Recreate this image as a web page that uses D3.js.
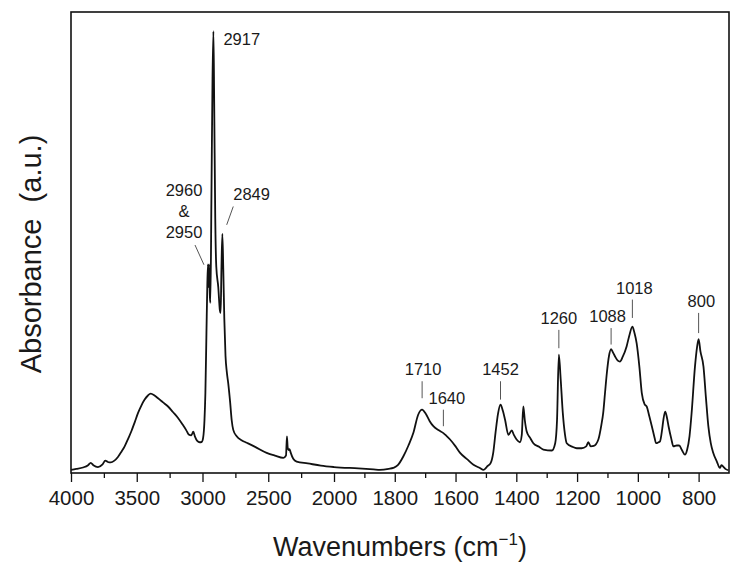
<!DOCTYPE html>
<html>
<head>
<meta charset="utf-8">
<script src="https://cdn.jsdelivr.net/npm/d3@7"></script>
<style>
    body { margin: 0; background: #fff; }
    svg text { font-family: "Liberation Sans", Arial, sans-serif; fill: #1a1a1a; }
</style>
</head>
<body>
<div id="chart"></div>
<script>
// spectrum (cm-1, absorbance a.u.)
const wavenumbers = [
    4000, 3960, 3909, 3870, 3850, 3830, 3795, 3760, 3739, 3720, 3698, 3670, 3643, 3615, 3592, 3565,
    3541, 3515, 3490, 3465, 3440, 3415, 3394, 3365, 3338, 3300, 3262, 3225, 3186, 3150, 3123, 3105,
    3085, 3070, 3058, 3040, 3021, 3005, 2995, 2985, 2978, 2970, 2963, 2958, 2954, 2950, 2944, 2940,
    2932, 2924, 2917, 2911, 2903, 2895, 2880, 2868, 2862, 2856, 2849, 2842, 2834, 2825, 2815, 2804,
    2790, 2778, 2766, 2740, 2700, 2664, 2600, 2512, 2450, 2385, 2365, 2358, 2352, 2345, 2338, 2330,
    2310, 2284, 2200, 2100, 2000, 1920, 1870, 1849, 1820, 1805, 1790, 1772, 1755, 1739, 1723, 1710,
    1698, 1685, 1673, 1655, 1640, 1630, 1618, 1600, 1585, 1560, 1541, 1520, 1508, 1500, 1495, 1485,
    1476, 1468, 1460, 1452, 1444, 1437, 1426, 1415, 1408, 1399, 1388, 1382, 1377, 1372, 1366, 1355,
    1344, 1325, 1311, 1283, 1272, 1266, 1260, 1254, 1247, 1240, 1234, 1215, 1201, 1185, 1170, 1163,
    1155, 1145, 1130, 1120, 1114, 1108, 1102, 1095, 1088, 1082, 1075, 1066, 1059, 1050, 1037, 1028,
    1018, 1011, 1004, 995, 987, 978, 971, 962, 954, 945, 940, 932, 927, 920, 916, 910,
    904, 899, 890, 883, 872, 864, 855, 845, 838, 830, 823, 812, 805, 800, 794, 784,
    776, 768, 760, 752, 740, 730, 725, 719, 712, 702
];
const absorbance = [
    0.002, 0.004, 0.007, 0.012, 0.017, 0.012, 0.008, 0.014, 0.022, 0.019, 0.018, 0.022, 0.030, 0.042, 0.053, 0.070,
    0.086, 0.106, 0.126, 0.142, 0.155, 0.164, 0.168, 0.164, 0.158, 0.149, 0.140, 0.128, 0.115, 0.100, 0.088, 0.079,
    0.077, 0.085, 0.075, 0.065, 0.062, 0.063, 0.072, 0.110, 0.170, 0.300, 0.410, 0.450, 0.400, 0.450, 0.380, 0.366,
    0.600, 0.850, 0.958, 0.800, 0.550, 0.444, 0.400, 0.350, 0.344, 0.440, 0.516, 0.440, 0.330, 0.250, 0.215, 0.190,
    0.150, 0.110, 0.089, 0.075, 0.066, 0.061, 0.052, 0.039, 0.033, 0.028, 0.033, 0.075, 0.050, 0.045, 0.047, 0.040,
    0.026, 0.020, 0.016, 0.011, 0.008, 0.005, 0.003, 0.002, 0.004, 0.006, 0.012, 0.031, 0.055, 0.082, 0.122, 0.133,
    0.124, 0.108, 0.097, 0.088, 0.082, 0.076, 0.068, 0.053, 0.039, 0.024, 0.013, 0.006, 0.002, 0.006, 0.010, 0.016,
    0.039, 0.085, 0.125, 0.144, 0.130, 0.111, 0.078, 0.088, 0.078, 0.068, 0.062, 0.078, 0.140, 0.110, 0.086, 0.072,
    0.060, 0.052, 0.046, 0.044, 0.060, 0.110, 0.253, 0.200, 0.126, 0.080, 0.060, 0.052, 0.049, 0.049, 0.053, 0.062,
    0.053, 0.054, 0.068, 0.100, 0.126, 0.170, 0.213, 0.250, 0.265, 0.258, 0.249, 0.240, 0.238, 0.248, 0.271, 0.295,
    0.314, 0.300, 0.278, 0.227, 0.169, 0.145, 0.140, 0.118, 0.097, 0.072, 0.060, 0.062, 0.064, 0.090, 0.111, 0.129,
    0.115, 0.097, 0.070, 0.053, 0.055, 0.055, 0.045, 0.035, 0.045, 0.075, 0.126, 0.227, 0.270, 0.287, 0.260, 0.227,
    0.160, 0.097, 0.060, 0.039, 0.020, 0.006, 0.012, 0.009, 0.004, 0.001
];

const xTicks = [4000, 3500, 3000, 2500, 2000, 1800, 1600, 1400, 1200, 1000, 800];
const xMinorTicks = [3750, 3250, 2750, 2250, 1900, 1700, 1500, 1300, 1100, 900];

// vertical peak markers: label, position, leader line bottom/top (a.u.)
const peakNames = ["1710", "1640", "1452", "1260", "1088", "1018", "800"];
const peakWavenumbers = [1710, 1640, 1452, 1260, 1088, 1018, 800];
const leaderLow = [0.158, 0.097, 0.155, 0.267, 0.275, 0.333, 0.300];
const leaderHigh = [0.195, 0.133, 0.195, 0.307, 0.311, 0.373, 0.344];
const labelShift = [1, 3.5, 0, 0, -3.5, 2, 2.7];

const width = 742, height = 572;
const margin = { top: 12, right: 13, bottom: 99, left: 71 };

const svg = d3.select("#chart").append("svg")
    .attr("width", width)
    .attr("height", height);

// the axis is broken in scale at 2000 cm-1
const x = d3.scaleLinear()
    .domain([4000, 2000, 700])
    .range([margin.left, 334, width - margin.right]);

const y = d3.scaleLinear()
    .domain([-0.005, 1])
    .range([height - margin.bottom, margin.top]);

const data = wavenumbers.map((w, i) => ({ w, a: absorbance[i] }));

// minor ticks
svg.append("g")
    .attr("transform", `translate(0,${height - margin.bottom})`)
    .call(d3.axisBottom(x).tickValues(xMinorTicks).tickSize(5).tickFormat(""))
    .call(g => g.select(".domain").remove())
    .call(g => g.selectAll("line").attr("stroke", "#111").attr("stroke-width", 1.3));

// major ticks
svg.append("g")
    .attr("transform", `translate(0,${height - margin.bottom})`)
    .call(d3.axisBottom(x).tickValues(xTicks).tickSize(9).tickPadding(8).tickFormat(d3.format("d")))
    .call(g => g.select(".domain").remove())
    .call(g => g.selectAll("line").attr("stroke", "#111").attr("stroke-width", 1.3))
    .call(g => g.selectAll("text").style("font-size", "20.5px").attr("fill", "#1a1a1a"));

// frame
svg.append("rect")
    .attr("x", margin.left)
    .attr("y", margin.top)
    .attr("width", width - margin.right - margin.left)
    .attr("height", height - margin.bottom - margin.top)
    .attr("fill", "none")
    .attr("stroke", "#111")
    .attr("stroke-width", 1.6);

const line = d3.line()
    .curve(d3.curveMonotoneX)
    .x(d => x(d.w))
    .y(d => y(d.a));

svg.append("path")
    .datum(data)
    .attr("fill", "none")
    .attr("stroke", "#111")
    .attr("stroke-width", 1.8)
    .attr("stroke-linejoin", "round")
    .attr("d", line);

// peak annotations
const ann = svg.append("g").style("font-size", "16.5px");

peakNames.forEach((name, i) => {
    const px = x(peakWavenumbers[i]);
    ann.append("line")
        .attr("x1", px).attr("x2", px)
        .attr("y1", y(leaderLow[i])).attr("y2", y(leaderHigh[i]))
        .attr("stroke", "#555").attr("stroke-width", 1);
    ann.append("text")
        .attr("x", px + labelShift[i])
        .attr("y", y(leaderHigh[i]) - 6)
        .attr("text-anchor", "middle")
        .text(name);
});

// 2917: no leader
ann.append("text")
    .attr("x", x(2917) + 10)
    .attr("y", y(0.958) + 14)
    .text("2917");

// 2849 with slanted leader
ann.append("line")
    .attr("x1", x(2816)).attr("y1", y(0.536))
    .attr("x2", x(2766)).attr("y2", y(0.576))
    .attr("stroke", "#555").attr("stroke-width", 1);
ann.append("text")
    .attr("x", x(2766))
    .attr("y", y(0.576) - 6)
    .text("2849");

// 2960 & 2950 doublet
ann.append("line")
    .attr("x1", x(2989)).attr("y1", y(0.449))
    .attr("x2", x(3057)).attr("y2", y(0.492))
    .attr("stroke", "#555").attr("stroke-width", 1);
ann.append("text")
    .attr("x", x(3057) - 11)
    .attr("y", y(0.492) - 7)
    .attr("text-anchor", "middle")
    .selectAll("tspan")
    .data(["2950", "&", "2960"])
    .join("tspan")
    .attr("x", x(3057) - 11)
    .attr("dy", (d, i) => i === 0 ? 0 : -21)
    .text(d => d);

// axis titles
const xTitle = svg.append("text")
    .attr("x", (margin.left + width - margin.right) / 2)
    .attr("y", 556)
    .attr("text-anchor", "middle")
    .style("font-size", "27px");
xTitle.append("tspan").text("Wavenumbers (cm");
xTitle.append("tspan").attr("dy", -11).style("font-size", "17px").text("\u22121");
xTitle.append("tspan").attr("dy", 11).text(")");

svg.append("text")
    .attr("transform", `translate(41,254) rotate(-90)`)
    .attr("text-anchor", "middle")
    .attr("xml:space", "preserve")
    .style("white-space", "pre")
    .style("font-size", "29px")
    .text("Absorbance  (a.u.)");
</script>
</body>
</html>
